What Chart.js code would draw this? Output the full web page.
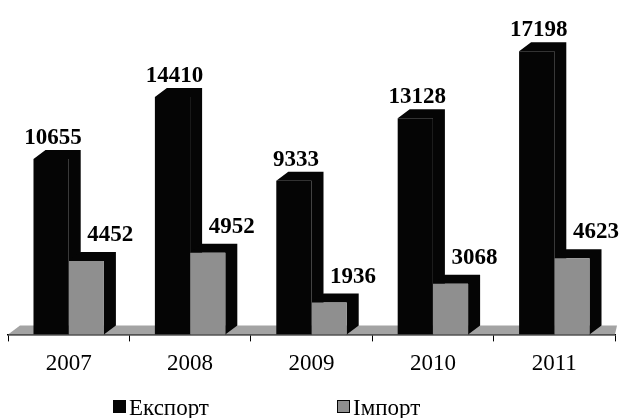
<!DOCTYPE html>
<html>
<head>
<meta charset="utf-8">
<script src="https://cdn.jsdelivr.net/npm/chart.js@4.4.1/dist/chart.umd.min.js"></script>
<style>
  html, body { margin: 0; padding: 0; background: #fff; }
  #wrap { width: 621px; height: 418px; }
</style>
</head>
<body>
<div id="wrap"><canvas id="chart"></canvas></div>
<script>
// --- data -------------------------------------------------------------------
const years = ['2007', '2008', '2009', '2010', '2011'];
const exportVals = [10655, 14410, 9333, 13128, 17198];
const importVals = [4452, 4952, 1936, 3068, 4623];
const seriesNames = ['Експорт', 'Імпорт'];
const yMax = 20000;

// --- look -------------------------------------------------------------------
const SERIF = "'Liberation Serif', 'Times New Roman', serif";
const BLACK = '#050505';
const GREY = '#8f8f8f';
const DEPTH = { dx: 12, dy: 9 };           // fake 3D offset of top / side faces
const LABEL = [                            // value label nudges per series
  { shift: 2, gap: 6 },
  { shift: 24, gap: 11 },
];

// draws floor, top and side faces so the flat bars read like Excel 3D columns
const depth3d = {
  id: 'depth3d',
  beforeDatasetsDraw(chart) {
    const { ctx, chartArea: a } = chart;
    ctx.save();
    ctx.fillStyle = '#a3a3a3';
    ctx.beginPath();
    ctx.moveTo(a.left, a.bottom);
    ctx.lineTo(a.right, a.bottom);
    ctx.lineTo(a.right + 2, a.bottom - DEPTH.dy);
    ctx.lineTo(a.left + DEPTH.dx, a.bottom - DEPTH.dy);
    ctx.closePath();
    ctx.fill();

    // top and side faces of every column, series in order, before any fronts
    ctx.fillStyle = BLACK;
    chart.data.datasets.forEach((ds, di) => {
      chart.getDatasetMeta(di).data.forEach(bar => {
        const { x, y, base, width } = bar.getProps(['x', 'y', 'base', 'width'], true);
        const l = x - width / 2, r = x + width / 2;
        ctx.beginPath();
        ctx.moveTo(l, y);
        ctx.lineTo(l + DEPTH.dx, y - DEPTH.dy);
        ctx.lineTo(r + DEPTH.dx, y - DEPTH.dy);
        ctx.lineTo(r + DEPTH.dx, base - DEPTH.dy);
        ctx.lineTo(r, base);
        ctx.lineTo(r, y);
        ctx.closePath();
        ctx.fill();
      });
    });
    ctx.restore();
  },
  afterDatasetsDraw(chart) {
    const ctx = chart.ctx;
    ctx.save();
    ctx.font = 'bold 23px ' + SERIF;
    ctx.fillStyle = '#000';
    ctx.textAlign = 'center';
    ctx.textBaseline = 'alphabetic';
    chart.data.datasets.forEach((ds, di) => {
      const meta = chart.getDatasetMeta(di);
      meta.data.forEach((bar, i) => {
        const { x, y } = bar.getProps(['x', 'y'], true);
        ctx.fillText(String(ds.data[i]), x + LABEL[di].shift, y - DEPTH.dy - LABEL[di].gap);
      });
    });
    ctx.restore();
  },
  afterDraw(chart) {
    // legend, placed like the original (left of centre)
    const ctx = chart.ctx;
    const starts = [113, 337];
    const baseline = 415;
    ctx.save();
    ctx.font = '23px ' + SERIF;
    ctx.textBaseline = 'alphabetic';
    ctx.textAlign = 'left';
    chart.data.datasets.forEach((ds, i) => {
      const x = starts[i];
      ctx.fillStyle = ds.backgroundColor;
      ctx.fillRect(x, baseline - 15, 13, 13);
      ctx.strokeStyle = BLACK;
      ctx.lineWidth = 1;
      ctx.strokeRect(x + 0.5, baseline - 14.5, 12, 12);
      ctx.fillStyle = '#000';
      ctx.fillText(ds.label, x + 16, baseline);
    });
    ctx.restore();
  },
};

new Chart(document.getElementById('chart'), {
  type: 'bar',
  data: {
    labels: years,
    datasets: [
      { label: seriesNames[0], data: exportVals, backgroundColor: BLACK },
      { label: seriesNames[1], data: importVals, backgroundColor: GREY },
    ],
  },
  options: {
    responsive: true,
    maintainAspectRatio: false,
    animation: false,
    layout: { padding: { top: 5, left: 8, right: 6, bottom: 31 } },
    datasets: { bar: { categoryPercentage: 0.58, barPercentage: 1, borderWidth: 0 } },
    plugins: {
      legend: { display: false },
      tooltip: { enabled: false },
    },
    scales: {
      x: {
        grid: {
          offset: true,
          drawOnChartArea: false,
          drawTicks: true,
          tickLength: 7,
          color: '#000',
          lineWidth: 1,
        },
        border: { display: true, color: '#000', width: 1.5 },
        ticks: { color: '#000', padding: 9, font: { family: SERIF, size: 23 } },
      },
      y: { display: false, min: 0, max: yMax },
    },
  },
  plugins: [depth3d],
});
</script>
</body>
</html>
